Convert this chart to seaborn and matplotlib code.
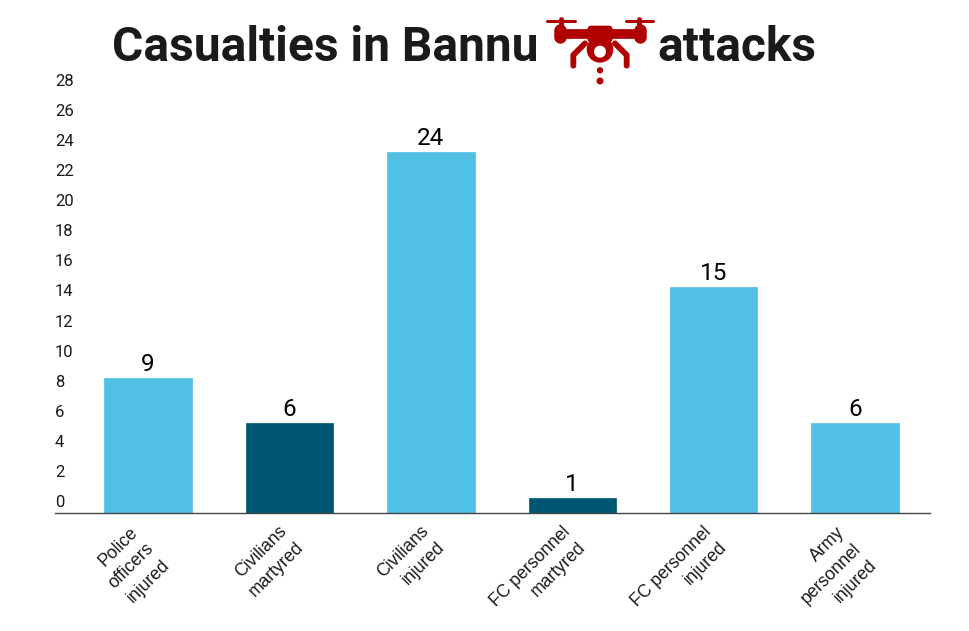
"""Casualties in Bannu drone attacks - bar chart recreation"""

import matplotlib
matplotlib.use("Agg")
import matplotlib.pyplot as plt
from matplotlib.patches import Circle, FancyBboxPatch
from matplotlib.transforms import ScaledTranslation
import pandas as pd
import seaborn as sns

# ── Data ───────────────────────────────────────────────────────────────────────
categories = [
    "Police\nofficers\ninjured",
    "Civilians\nmartyred",
    "Civilians\ninjured",
    "FC personnel\nmartyred",
    "FC personnel\ninjured",
    "Army\npersonnel\ninjured",
]
values = [9, 6, 24, 1, 15, 6]
y_ticks = list(range(0, 29, 2))

LIGHT = "#50c1e5"
DARK = "#005773"
colors = [LIGHT, DARK, LIGHT, DARK, LIGHT, LIGHT]
INK = "#1a1a1a"
RED = "#b00000"

W, H = 970, 631
df = pd.DataFrame({"category": categories, "value": values})

# ── Figure ─────────────────────────────────────────────────────────────────────
sns.set_theme(style="white")
plt.rcParams["font.family"] = ["Roboto", "DejaVu Sans"]

fig = plt.figure(figsize=(W / 100, H / 100), dpi=100)
ax = fig.add_axes([55 / W, 1 - 513 / H, 875 / W, 421 / H])

sns.barplot(data=df, x="category", y="value", hue="category",
            palette=colors, legend=False, width=0.618, saturation=1,
            linewidth=0.5, ax=ax)
for bar, c in zip(ax.patches, colors):
    bar.set_edgecolor(c)

ax.set_xlim(-0.658, 5.53)
ax.set_ylim(0, 28)
ax.set_xlabel("")
ax.set_ylabel("")
sns.despine(ax=ax, left=True)
ax.spines["bottom"].set_color("#444444")
ax.spines["bottom"].set_linewidth(1.0)

# y labels sit 12 px above their true height, left aligned with the axis start
ax.set_yticks(y_ticks)
ax.tick_params(axis="y", length=0, pad=0, labelsize=12, labelcolor=INK)
shift = ScaledTranslation(0, 12 / 100, fig.dpi_scale_trans)
for lab in ax.get_yticklabels():
    lab.set_horizontalalignment("left")
    lab.set_transform(lab.get_transform() + shift)

# x labels: right aligned lines, block hangs lower the more lines it has
ax.tick_params(axis="x", length=0, pad=0)
ax.set_xticks(range(len(categories)))
ax.set_xticklabels(categories, rotation=45, ha="right", va="center",
                   rotation_mode="anchor", multialignment="right",
                   fontsize=12.7, family="Liberation Sans", color=INK,
                   linespacing=1.45)
for lab, name in zip(ax.get_xticklabels(), categories):
    dy = 33 if name.count("\n") == 2 else 24
    lab.set_transform(lab.get_transform()
                      + ScaledTranslation(3 / 100, -dy / 100, fig.dpi_scale_trans))

# value labels
for container in ax.containers:
    ax.bar_label(container, padding=1.5, fontsize=17.5, color="black")

# ── Title + drone icon, in pixel coordinates ───────────────────────────────────
ov = fig.add_axes([0, 0, 1, 1], facecolor="none")
ov.set_xlim(0, W)
ov.set_ylim(H, 0)
ov.axis("off")

ov.text(112, 48, "Casualties in Bannu", fontsize=34.5, fontweight="bold",
        color=INK, ha="left", va="center")
ov.text(657, 48, "attacks", fontsize=34.5, fontweight="bold",
        color=INK, ha="left", va="center")


def zx(x):
    return 530 + x / 3


def zy(y):
    return 5 + y / 3


def stroke(xs, ys, lw):
    ov.plot([zx(x) for x in xs], [zy(y) for y in ys], color=RED, lw=lw,
            solid_capstyle="round", solid_joinstyle="round")


# rotors
stroke([50, 134], [48, 48], 2.2)
stroke([287, 370], [48, 48], 2.2)
stroke([92, 92], [42, 70], 3.5)
stroke([328, 328], [42, 70], 3.5)
# arms and motor housings
stroke([90, 330], [87, 87], 7)
stroke([91, 91], [76, 96], 9)
stroke([330, 330], [76, 96], 9)
# body
ov.add_patch(FancyBboxPatch((zx(172), zy(62)), 76 / 3, 50 / 3,
                            boxstyle="round,pad=0,rounding_size=4",
                            fc=RED, ec="none"))
ov.add_patch(Circle((zx(210), zy(133)), 40 / 3, fc=RED, ec="none"))
ov.add_patch(Circle((zx(210), zy(140)), 18 / 3, fc="white", ec="none", zorder=5))
# legs
stroke([165, 130, 130], [115, 150, 182], 4.2)
stroke([255, 290, 290], [115, 150, 182], 4.2)
# dropped dots
ov.add_patch(Circle((zx(210), zy(196)), 9.5 / 3, fc=RED, ec="none"))
ov.add_patch(Circle((zx(210), zy(228)), 10.5 / 3, fc=RED, ec="none"))

fig.savefig("out.png", dpi=100)
